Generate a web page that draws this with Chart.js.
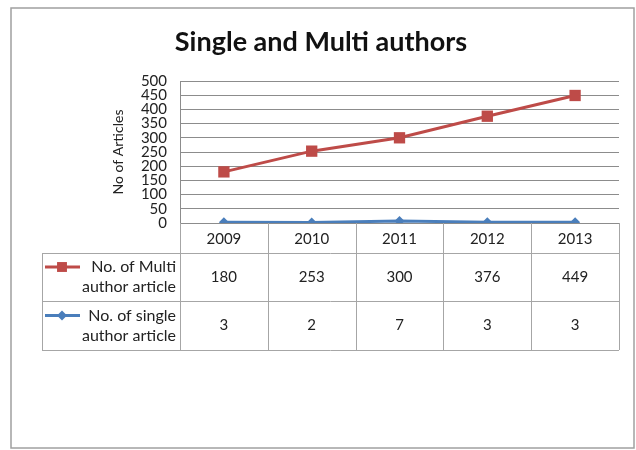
<!DOCTYPE html>
<html>
<head>
<meta charset="utf-8">
<title>Single and Multi authors</title>
<script src="https://cdn.jsdelivr.net/npm/chart.js@4/dist/chart.umd.min.js"></script>
<style>
  body { margin: 0; background: #fff; }
  #wrap { width: 636px; height: 450px; }
</style>
</head>
<body>
<div id="wrap"><canvas id="myChart" width="636" height="450"></canvas></div>
<script>
// Articles per year
const years = ['2009', '2010', '2011', '2012', '2013'];
const multiAuthor = [180, 253, 300, 376, 449];
const singleAuthor = [3, 2, 7, 3, 3];
const seriesNames = [['No. of Multi', 'author article'], ['No. of single', 'author article']];
const chartTitle = 'Single and Multi authors';

const RED = '#be4b48';
const BLUE = '#4a7ebb';
const FONT = 'Lato, "Open Sans", sans-serif';

// Draws the frame, the title and the data table under the plot
const tablePlugin = {
  id: 'dataTable',
  afterDraw(chart) {
    const ctx = chart.ctx;
    const x = chart.scales.x;
    const area = chart.chartArea;
    const lineColor = '#a6a6a6';

    // outer frame
    ctx.save();
    ctx.strokeStyle = '#a0a0a0';
    ctx.lineWidth = 1.5;
    ctx.strokeRect(11, 8, 623, 440);

    // title, centred on the whole frame
    ctx.fillStyle = '#111';
    ctx.font = 'bold 27px ' + FONT;
    ctx.textAlign = 'center';
    ctx.textBaseline = 'middle';
    ctx.fillText(chartTitle, 321, 42);

    const top = area.bottom;
    const rowBottoms = [253, 301, 350];
    const legendLeft = 42;

    // column edges from the category scale
    const edges = [area.left];
    for (let i = 0; i < years.length - 1; i++) {
      edges.push((x.getPixelForValue(i) + x.getPixelForValue(i + 1)) / 2);
    }
    edges.push(area.right);

    ctx.strokeStyle = lineColor;
    ctx.lineWidth = 1;
    ctx.beginPath();
    edges.forEach(e => {
      ctx.moveTo(Math.round(e) + 0.5, top);
      ctx.lineTo(Math.round(e) + 0.5, rowBottoms[2]);
    });
    ctx.moveTo(legendLeft + 0.5, rowBottoms[0]);
    ctx.lineTo(legendLeft + 0.5, rowBottoms[2]);
    rowBottoms.forEach(y => {
      ctx.moveTo(legendLeft, y + 0.5);
      ctx.lineTo(area.right, y + 0.5);
    });
    ctx.stroke();

    // year header and values
    ctx.fillStyle = '#222';
    ctx.font = '15px ' + FONT;
    ctx.textAlign = 'center';
    years.forEach((yr, i) => {
      const cx = x.getPixelForValue(i);
      ctx.fillText(yr, cx, (top + rowBottoms[0]) / 2 + 1);
      ctx.fillText(String(multiAuthor[i]), cx, (rowBottoms[0] + rowBottoms[1]) / 2);
      ctx.fillText(String(singleAuthor[i]), cx, (rowBottoms[1] + rowBottoms[2]) / 2);
    });

    // legend cells
    const rows = [
      { y0: rowBottoms[0], y1: rowBottoms[1], color: RED, style: 'rect', radius: 7 },
      { y0: rowBottoms[1], y1: rowBottoms[2], color: BLUE, style: 'rectRot', radius: 5 }
    ];
    ctx.font = '16px ' + FONT;
    rows.forEach((r, k) => {
      const mid = (r.y0 + r.y1) / 2;
      const ly = mid - 10;
      ctx.textAlign = 'right';
      ctx.fillStyle = '#222';
      ctx.fillText(seriesNames[k][0], 176, mid - 10);
      ctx.fillText(seriesNames[k][1], 176, mid + 10);
      ctx.strokeStyle = r.color;
      ctx.lineWidth = 3;
      ctx.beginPath();
      ctx.moveTo(45, ly);
      ctx.lineTo(80, ly);
      ctx.stroke();
      ctx.fillStyle = r.color;
      Chart.helpers.drawPoint(ctx, { pointStyle: r.style, radius: r.radius, rotation: 0, borderWidth: 0 }, 62, ly);
    });
    ctx.restore();
  }
};

const ctx = document.getElementById('myChart').getContext('2d');

const chart = new Chart(ctx, {
  type: 'line',
  data: {
    labels: years,
    datasets: [{
      label: seriesNames[0].join(' '),
      data: multiAuthor,
      borderColor: RED,
      backgroundColor: RED,
      borderWidth: 3,
      pointStyle: 'rect',
      pointRadius: 8,
      pointBorderWidth: 0,
      tension: 0
    }, {
      label: seriesNames[1].join(' '),
      data: singleAuthor,
      borderColor: BLUE,
      backgroundColor: BLUE,
      borderWidth: 3,
      pointStyle: 'rectRot',
      pointRadius: 5,
      pointBorderWidth: 0,
      tension: 0
    }]
  },
  options: {
    responsive: false,
    animation: false,
    layout: { padding: { left: 110, right: 17, top: 81, bottom: 219 } },
    plugins: {
      legend: { display: false },
      tooltip: { enabled: false },
      title: { display: false }
    },
    scales: {
      x: {
        offset: true,
        ticks: { display: false },
        grid: { display: false },
        border: { display: false }
      },
      y: {
        min: 0,
        max: 500,
        ticks: {
          stepSize: 50,
          autoSkip: false,
          color: '#222',
          padding: 13,
          font: { family: FONT, size: 15, lineHeight: 1 }
        },
        grid: { color: '#8c8c8c', drawTicks: false },
        border: { color: '#8c8c8c' },
        title: {
          display: true,
          text: 'No of Articles',
          color: '#222',
          font: { family: FONT, size: 14 },
          padding: 0
        },
        afterFit(scale) { scale.width = 70; }
      }
    }
  },
  plugins: [tablePlugin]
});
</script>
</body>
</html>
